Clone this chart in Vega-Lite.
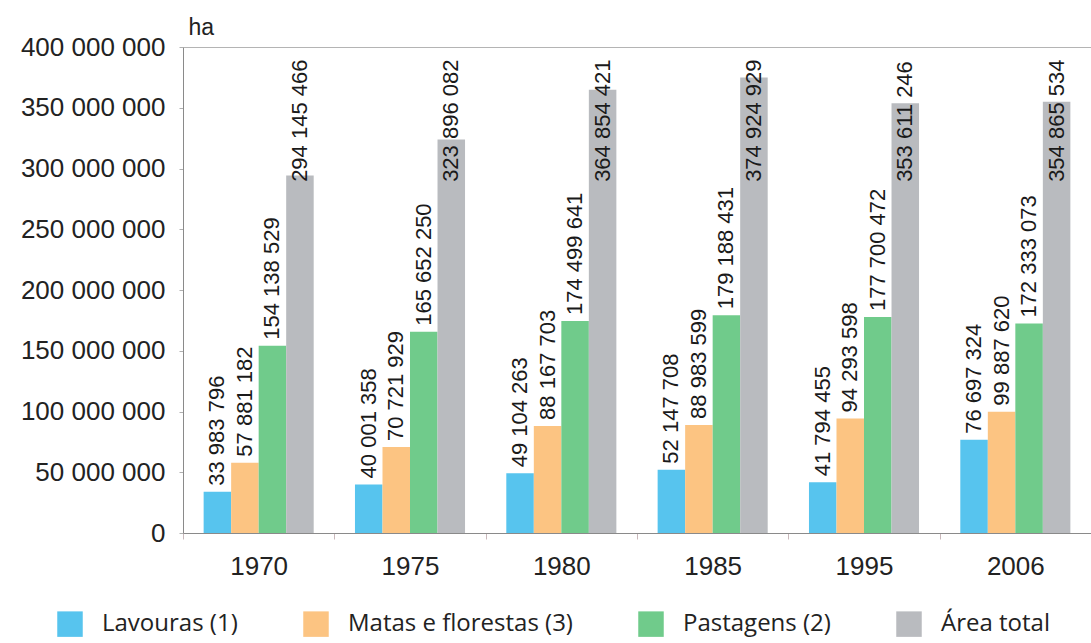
{
  "$schema": "https://vega.github.io/schema/vega-lite/v6.json",
  "autosize": "none",
  "width": 908,
  "height": 486,
  "padding": {"left": 183, "top": 47, "right": 0, "bottom": 110},
  "background": "white",
  "config": {
    "locale": {"number": {"decimal": ",", "thousands": " ", "grouping": [3], "currency": ["", ""]}},
    "view": {"stroke": null},
    "font": "Liberation Sans"
  },
  "data": {
    "values": [
      {"ano": "1970", "uso": "Lavouras (1)", "ha": 33983796},
      {"ano": "1970", "uso": "Matas e florestas (3)", "ha": 57881182},
      {"ano": "1970", "uso": "Pastagens (2)", "ha": 154138529},
      {"ano": "1970", "uso": "Área total", "ha": 294145466},
      {"ano": "1975", "uso": "Lavouras (1)", "ha": 40001358},
      {"ano": "1975", "uso": "Matas e florestas (3)", "ha": 70721929},
      {"ano": "1975", "uso": "Pastagens (2)", "ha": 165652250},
      {"ano": "1975", "uso": "Área total", "ha": 323896082},
      {"ano": "1980", "uso": "Lavouras (1)", "ha": 49104263},
      {"ano": "1980", "uso": "Matas e florestas (3)", "ha": 88167703},
      {"ano": "1980", "uso": "Pastagens (2)", "ha": 174499641},
      {"ano": "1980", "uso": "Área total", "ha": 364854421},
      {"ano": "1985", "uso": "Lavouras (1)", "ha": 52147708},
      {"ano": "1985", "uso": "Matas e florestas (3)", "ha": 88983599},
      {"ano": "1985", "uso": "Pastagens (2)", "ha": 179188431},
      {"ano": "1985", "uso": "Área total", "ha": 374924929},
      {"ano": "1995", "uso": "Lavouras (1)", "ha": 41794455},
      {"ano": "1995", "uso": "Matas e florestas (3)", "ha": 94293598},
      {"ano": "1995", "uso": "Pastagens (2)", "ha": 177700472},
      {"ano": "1995", "uso": "Área total", "ha": 353611246},
      {"ano": "2006", "uso": "Lavouras (1)", "ha": 76697324},
      {"ano": "2006", "uso": "Matas e florestas (3)", "ha": 99887620},
      {"ano": "2006", "uso": "Pastagens (2)", "ha": 172333073},
      {"ano": "2006", "uso": "Área total", "ha": 354865534}
    ]
  },
  "encoding": {
    "x": {
      "field": "ano",
      "type": "nominal",
      "scale": {"paddingInner": 0, "paddingOuter": 0},
      "axis": {
        "title": null,
        "labelAngle": 0,
        "labelFontSize": 26,
        "labelColor": "#222",
        "labelPadding": 14,
        "tickBand": "extent",
        "tickSize": 6,
        "tickColor": "#c9b8bb",
        "domainColor": "#8a8a8a"
      }
    },
    "xOffset": {
      "field": "uso",
      "type": "nominal",
      "sort": ["Lavouras (1)", "Matas e florestas (3)", "Pastagens (2)", "Área total"],
      "scale": {"paddingInner": 0, "paddingOuter": 0.75}
    },
    "y": {
      "field": "ha",
      "type": "quantitative",
      "scale": {"domain": [0, 400000000]},
      "axis": {
        "title": "ha",
        "titleAngle": 0,
        "titleAlign": "left",
        "titleBaseline": "alphabetic",
        "titleX": 5,
        "titleY": -13,
        "titleFontSize": 23,
        "titleFontWeight": "normal",
        "titleColor": "#222",
        "format": ",d",
        "values": [0, 50000000, 100000000, 150000000, 200000000, 250000000, 300000000, 350000000, 400000000],
        "labelFontSize": 26,
        "labelColor": "#222",
        "labelPadding": 14,
        "tickSize": 4,
        "tickColor": "#b0b0b0",
        "domainColor": "#8a8a8a",
        "grid": true,
        "gridColor": {"condition": {"test": "datum.value === 400000000", "value": "#b4b4b4"}, "value": "transparent"}
      }
    }
  },
  "layer": [
    {
      "mark": {"type": "bar"},
      "encoding": {
        "color": {
          "field": "uso",
          "type": "nominal",
          "sort": ["Lavouras (1)", "Matas e florestas (3)", "Pastagens (2)", "Área total"],
          "scale": {
            "domain": ["Lavouras (1)", "Matas e florestas (3)", "Pastagens (2)", "Área total"],
            "range": ["#57c4ee", "#fcc482", "#70cb8b", "#b9bbbf"]
          },
          "legend": {
            "title": null,
            "orient": "none",
            "direction": "horizontal",
            "legendX": -126,
            "legendY": 564,
            "symbolType": "square",
            "symbolSize": 650,
            "symbolStrokeWidth": 0,
            "symbolOpacity": 1,
            "labelFont": "Open Sans",
            "labelFontSize": 24,
            "labelColor": "#222",
            "labelOffset": 19,
            "labelLimit": 400,
            "columnPadding": 65
          }
        }
      }
    },
    {
      "transform": [{"filter": "datum.uso !== 'Área total'"}],
      "mark": {"type": "text", "angle": 270, "align": "left", "baseline": "middle", "dx": 6, "fontSize": 22, "color": "#1a1a1a"},
      "encoding": {
        "text": {"field": "ha", "type": "quantitative", "format": ",d"}
      }
    },
    {
      "transform": [{"filter": "datum.uso === 'Área total'"}],
      "mark": {"type": "text", "angle": 270, "align": "left", "baseline": "middle", "fontSize": 22, "color": "#1a1a1a"},
      "encoding": {
        "y": {"datum": 289000000},
        "text": {"field": "ha", "type": "quantitative", "format": ",d"}
      }
    }
  ]
}
